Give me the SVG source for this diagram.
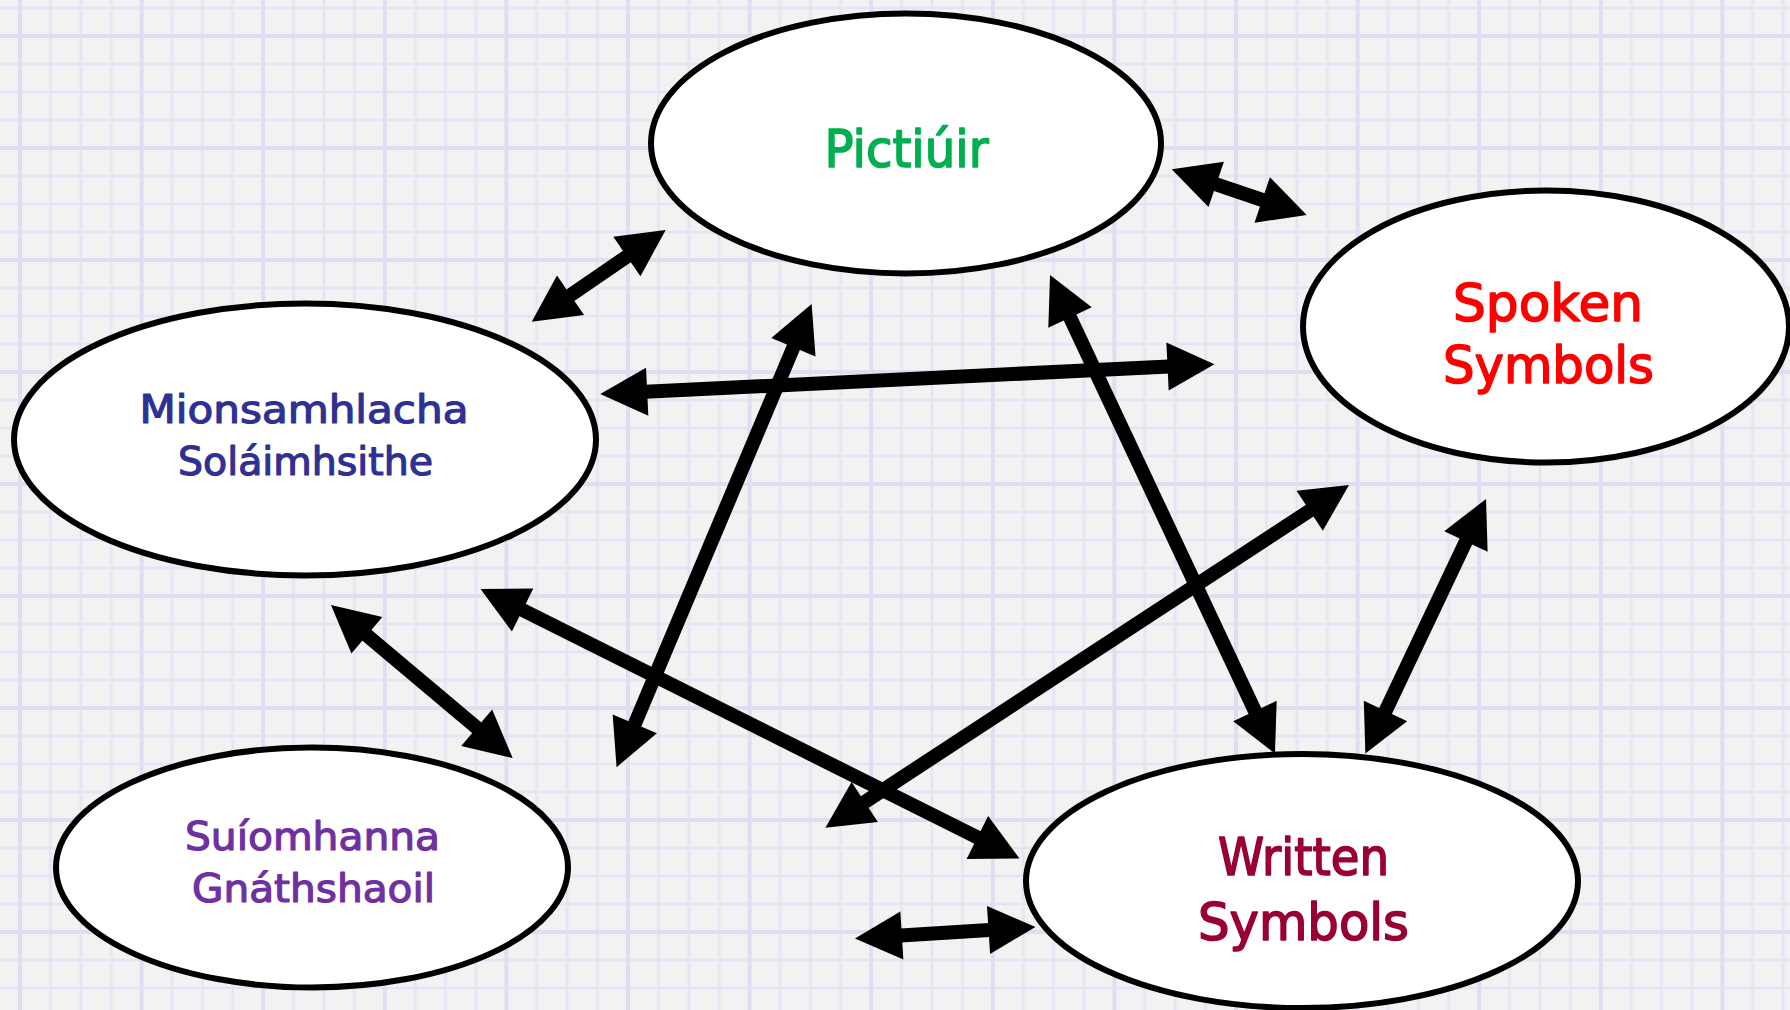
<svg xmlns="http://www.w3.org/2000/svg" width="1790" height="1010" viewBox="0 0 1790 1010">
<defs>
<pattern id="grid" patternUnits="userSpaceOnUse" x="20" y="36" width="121.6" height="112">
<rect width="121.6" height="112" fill="#f2f2f2"/>
<g stroke="#e4e4f5" stroke-width="2.5">
<line x1="30.4" y1="0" x2="30.4" y2="112"/>
<line x1="60.8" y1="0" x2="60.8" y2="112"/>
<line x1="91.2" y1="0" x2="91.2" y2="112"/>
<line x1="0" y1="28" x2="121.6" y2="28"/>
<line x1="0" y1="56" x2="121.6" y2="56"/>
<line x1="0" y1="84" x2="121.6" y2="84"/>
</g>
<g stroke="#dedef3" stroke-width="4">
<line x1="0" y1="0" x2="0" y2="112"/>
<line x1="121.6" y1="0" x2="121.6" y2="112"/>
<line x1="0" y1="0" x2="121.6" y2="0"/>
<line x1="0" y1="112" x2="121.6" y2="112"/>
</g>
</pattern>
<marker id="head" markerUnits="userSpaceOnUse" orient="auto-start-reverse" refX="0" refY="0" markerWidth="60" markerHeight="60" viewBox="-20 -30 60 60" overflow="visible">
<path d="M-17,-24 L30,0 L-17,24 Z" fill="#000"/>
</marker>
<style>
.node ellipse{fill:#fff;stroke:#000;stroke-width:6}
.node text{font-family:"DejaVu Sans","Liberation Sans",sans-serif;text-anchor:middle;stroke-linejoin:round}
.small{stroke-width:1.2}
.big{stroke-width:1.6}
.conn line{stroke:#000;stroke-width:14;marker-start:url(#head);marker-end:url(#head)}
</style>
</defs>
<rect width="1790" height="1010" fill="url(#grid)"/>

<g id="node-pictiuir" class="node">
<ellipse cx="906" cy="143.5" rx="255" ry="130"/>
<text class="big" x="906.5" y="167" font-size="51" fill="#00b050" stroke="#00b050" textLength="164" lengthAdjust="spacingAndGlyphs">Pictiúir</text>
</g>
<g id="node-mionsamhlacha" class="node">
<ellipse cx="305" cy="439.5" rx="291" ry="136"/>
<text class="small" x="304" y="423" font-size="39" fill="#2e3192" stroke="#2e3192" textLength="329" lengthAdjust="spacingAndGlyphs">Mionsamhlacha</text>
<text class="small" x="305.5" y="475" font-size="39" fill="#2e3192" stroke="#2e3192" textLength="255" lengthAdjust="spacingAndGlyphs">Soláimhsithe</text>
</g>
<g id="node-spoken" class="node">
<ellipse cx="1546" cy="326.5" rx="243" ry="136"/>
<text class="big" x="1548" y="321" font-size="52" fill="#ff0000" stroke="#ff0000" textLength="190" lengthAdjust="spacingAndGlyphs">Spoken</text>
<text class="big" x="1548.5" y="383" font-size="52" fill="#ff0000" stroke="#ff0000" textLength="211" lengthAdjust="spacingAndGlyphs">Symbols</text>
</g>
<g id="node-written" class="node">
<ellipse cx="1302" cy="881" rx="276" ry="127"/>
<text class="big" x="1303.5" y="875" font-size="51" fill="#990033" stroke="#990033" textLength="171" lengthAdjust="spacingAndGlyphs">Written</text>
<text class="big" x="1303.5" y="940" font-size="51" fill="#990033" stroke="#990033" textLength="211" lengthAdjust="spacingAndGlyphs">Symbols</text>
</g>
<g id="node-suiomhanna" class="node">
<ellipse cx="312" cy="867.5" rx="256" ry="120"/>
<text class="small" x="312.5" y="850" font-size="39" fill="#7030a0" stroke="#7030a0" textLength="255" lengthAdjust="spacingAndGlyphs">Suíomhanna</text>
<text class="small" x="313.5" y="902" font-size="39" fill="#7030a0" stroke="#7030a0" textLength="243" lengthAdjust="spacingAndGlyphs">Gnáthshaoil</text>
</g>

<g id="connectors" class="conn">
<line x1="556.5" y1="304.8" x2="640.9" y2="246.9"/>
<line x1="1200.1" y1="178.9" x2="1278.3" y2="205.4"/>
<line x1="630.2" y1="392.6" x2="1184.5" y2="365.7"/>
<line x1="800.0" y1="331.6" x2="628.2" y2="739.6"/>
<line x1="1062.8" y1="302.1" x2="1262.2" y2="726.4"/>
<line x1="507.4" y1="602.4" x2="992.6" y2="845.1"/>
<line x1="353.9" y1="624.3" x2="489.7" y2="738.7"/>
<line x1="1473.2" y1="526.1" x2="1378.2" y2="726.4"/>
<line x1="1323.9" y1="501.4" x2="850.5" y2="811.3"/>
<line x1="884.9" y1="936.5" x2="1005.5" y2="928.9"/>
</g>
</svg>
